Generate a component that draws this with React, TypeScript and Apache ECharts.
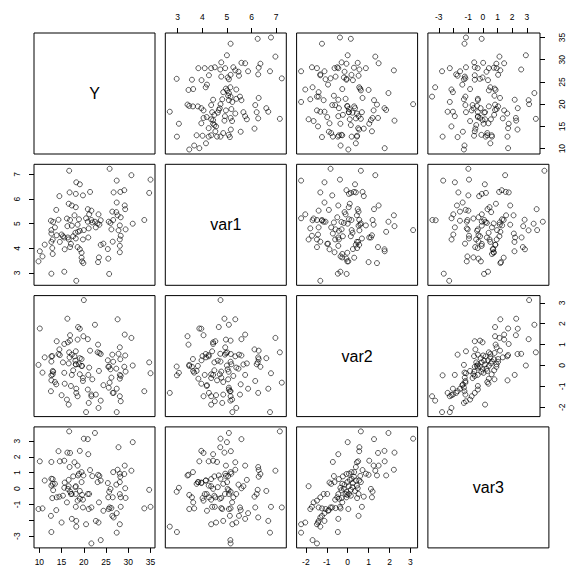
import React, { useEffect, useRef } from 'react';
import * as echarts from 'echarts';

const varNames = ['Y', 'var1', 'var2', 'var3'];

// Y and var1, read from the (Y, var1) panel
const yValues = [
  16.7, 25.8, 27.4, 30.7, 35.0, 18.3, 19.1, 16.8, 18.2, 19.8,
  21.4, 14.5, 26.7, 28.2, 29.1, 34.7, 27.4, 16.6, 17.3, 18.2,
  13.8, 20.9, 21.7, 26.4, 27.3, 29.2, 29.3, 17.9, 16.9, 18.9,
  21.2, 20.5, 21.7, 23.3, 23.8, 12.6, 13.1, 14.3, 16.2, 18.6,
  17.3, 16.3, 20.9, 21.9, 23.1, 22.5, 25.6, 26.6, 26.0, 27.6,
  28.3, 28.1, 29.4, 31.0, 33.6, 13.5, 12.7, 12.7, 13.9, 15.0,
  15.3, 15.6, 16.4, 17.6, 18.1, 18.7, 19.1, 20.0, 21.1, 22.7,
  23.5, 26.2, 27.8, 28.3, 13.0, 12.7, 14.6, 16.6, 18.2, 19.8,
  21.0, 17.1, 16.9, 18.6, 19.1, 26.5, 28.1, 28.1, 28.1, 23.8,
  24.4, 25.4, 15.7, 11.2, 10.1, 10.7, 9.8, 12.9, 13.0, 19.5,
  19.5, 19.6, 19.9, 23.4, 23.2, 25.5, 12.7, 15.6, 18.3, 25.7,
];
const var1Values = [
  7.15, 7.23, 6.75, 6.97, 6.79, 6.68, 6.60, 6.27, 6.21, 6.15,
  6.29, 6.12, 6.27, 6.29, 6.36, 6.25, 5.86, 5.81, 5.74, 5.67,
  5.56, 5.59, 5.53, 5.49, 5.47, 5.74, 5.59, 5.34, 5.15, 5.18,
  5.38, 5.22, 5.15, 5.38, 5.14, 5.12, 5.07, 5.16, 5.21, 4.96,
  4.92, 4.90, 5.08, 5.05, 5.01, 5.08, 5.08, 5.15, 5.03, 5.34,
  5.26, 4.93, 4.77, 5.00, 5.15, 4.85, 4.74, 4.60, 4.53, 4.56,
  4.49, 4.44, 4.44, 4.49, 4.63, 4.67, 4.71, 4.74, 4.81, 4.85,
  4.96, 4.77, 4.73, 4.51, 4.36, 4.26, 4.26, 4.36, 4.40, 4.36,
  4.44, 4.18, 4.05, 4.05, 3.96, 4.27, 4.36, 4.10, 3.84, 4.14,
  4.19, 3.97, 3.96, 4.15, 3.88, 3.67, 3.47, 4.01, 3.77, 3.82,
  3.62, 3.47, 3.40, 3.63, 3.44, 3.58, 2.97, 3.05, 2.68, 2.96,
];

// var2 and var3, read from the (var2, var3) panel
const var2Read = [
  0.63, 1.95, 0.00, 1.26, 3.13, 0.56, 0.55, 1.45, 1.76, 2.24,
  -0.45, 0.50, 0.44, 1.03, -0.71, 0.71, 1.24, 1.48, 1.77, 1.32,
  1.40, 2.21, 1.84, 0.87, 1.00, 0.39, 0.31, 0.06, 0.18, -0.06,
  -0.23, -0.42, -0.66, -0.63, -0.87, -0.79, -0.26, -0.02, 0.19, 0.39,
  0.55, 0.63, 0.44, 0.23, 0.15, -0.18, -0.10, -0.02, 0.06, -0.06,
  -0.29, -0.42, -0.50, -0.26, -0.37, -0.34, 0.48, 0.52, 0.77, 1.16,
  1.11, 1.19, -1.87, -0.98, -1.15, -1.31, -1.47, -1.63, -1.71, -1.79,
  -1.39, -1.23, -1.06, -0.82, -0.90, -0.74, -0.58, 0.03, 0.68, -1.11,
  -1.23, -1.31, -1.39, -1.47, -1.42, -1.31, -1.11, -0.94, -0.45, 0.52,
  -0.47, -2.23, -2.03, -2.23, -1.68, -1.47, -0.35, -0.15, 0.05, 0.25,
  0.35, -0.05, 0.15, -0.45, 0.60, 0.30, -0.30, 0.10, -0.60, 0.45,
];
const var3Read = [
  3.61, 3.51, 2.93, 3.12, 3.15, 2.61, 2.36, 2.25, 2.38, 2.27,
  2.17, 1.72, 1.66, 1.76, 1.68, 1.17, 1.45, 1.45, 1.72, 1.13,
  0.83, 1.19, 0.83, 0.94, 0.87, 1.36, 1.04, 0.94, 1.04, 0.92,
  0.77, 0.60, 0.79, 0.41, 0.38, 0.30, 0.30, 0.41, 0.62, 0.51,
  0.51, 0.41, 0.19, 0.09, -0.08, -0.02, -0.34, -0.40, -0.34, -0.55,
  -0.59, -0.64, -0.55, -0.87, -1.15, -1.25, 0.02, -0.34, -0.51, -0.55,
  -0.02, -0.19, 0.15, -0.34, -0.34, -0.55, -0.76, -0.87, -1.15, -1.29,
  -1.19, -1.25, -1.29, -1.19, -1.36, -1.19, -1.23, -1.29, -1.15, -1.55,
  -1.72, -1.82, -2.04, -2.25, -2.14, -2.40, -2.04, -1.40, -1.91, -1.72,
  -2.74, -2.25, -2.14, -2.78, -3.25, -3.46, 0.05, 0.25, 0.15, 0.35,
  -0.15, -0.20, -0.45, -0.35, 0.80, 0.75, -0.10, 0.55, -0.70, -0.60,
];

// The two panels were read separately, so which (var2, var3) pair belongs to
// which (Y, var1) observation is unknown: pair them through a fixed,
// scrambled index order (values themselves are untouched).
const pairOrder = var2Read
  .map((_, i) => i)
  .sort((a, b) => ((a * a * 37 + a * 11) % 113) - ((b * b * 37 + b * 11) % 113) || a - b);
const var2Values = pairOrder.map((k) => var2Read[k]);
const var3Values = pairOrder.map((k) => var3Read[k]);

const ticksY = [10, 15, 20, 25, 30, 35];
const ticksVar1 = [3, 4, 5, 6, 7];
const ticksVar2 = [-2, -1, 0, 1, 2, 3];
const ticksVar3 = [-3, -2, -1, 0, 1, 2, 3];
const labelsVar3 = [-3, -1, 0, 1, 2, 3];

const allValues = [yValues, var1Values, var2Values, var3Values];
const allTicks = [ticksY, ticksVar1, ticksVar2, ticksVar3];
const allLabels = [ticksY, ticksVar1, ticksVar2, labelsVar3];

const PANEL_LEFT = 34;
const PANEL_TOP = 33;
const PANEL = 121;
const GAP = 10.3;
const FONT = '"Liberation Sans", Arial, Helvetica, sans-serif';

export default function App() {
  const ref = useRef<HTMLDivElement>(null);
  useEffect(() => {
    if (!ref.current) return;
    const chart = echarts.init(ref.current, undefined, { renderer: 'svg' });
    const grids: any[] = [];
    const xAxes: any[] = [];
    const yAxes: any[] = [];
    const series: any[] = [];
    const graphics: any[] = [];
    const extMin = (v: any) => v.min - (v.max - v.min) * 0.04;
    const extMax = (v: any) => v.max + (v.max - v.min) * 0.04;
    for (let r = 0; r < 4; r++) {
      for (let c = 0; c < 4; c++) {
        const idx = r * 4 + c;
        const left = PANEL_LEFT + c * (PANEL + GAP);
        const top = PANEL_TOP + r * (PANEL + GAP);
        const diag = r === c;
        grids.push({
          left, top, width: PANEL, height: PANEL,
          show: true, borderColor: '#000', borderWidth: 1,
          backgroundColor: 'transparent', containLabel: false,
        });
        const showTop = r === 0 && c % 2 === 1;
        const showBottom = r === 3 && c % 2 === 0;
        const showX = showTop || showBottom;
        const showLeft = c === 0 && r % 2 === 1;
        const showRight = c === 3 && r % 2 === 0;
        const showY = showLeft || showRight;
        xAxes.push({
          gridIndex: idx, type: 'value',
          min: diag ? 0 : extMin, max: diag ? 1 : extMax,
          position: showTop ? 'top' : 'bottom',
          axisLine: { show: false, onZero: false },
          splitLine: { show: false },
          axisTick: {
            show: showX, customValues: allTicks[c], length: 5,
            lineStyle: { color: '#000', width: 1 },
          },
          axisLabel: {
            show: showX, customValues: allLabels[c], fontSize: 8.5,
            color: '#000', margin: showTop ? 12 : 10, fontFamily: FONT,
          },
        });
        yAxes.push({
          gridIndex: idx, type: 'value',
          min: diag ? 0 : extMin, max: diag ? 1 : extMax,
          position: showRight ? 'right' : 'left',
          axisLine: { show: false, onZero: false },
          splitLine: { show: false },
          axisTick: {
            show: showY, customValues: allTicks[r], length: 5,
            lineStyle: { color: '#000', width: 1 },
          },
          axisLabel: {
            show: showY, customValues: allLabels[r], fontSize: 8.5,
            color: '#000', margin: showRight ? 17 : 13, rotate: 90, fontFamily: FONT,
          },
        });
        if (diag) {
          graphics.push({
            type: 'text',
            x: left + PANEL / 2, y: top + PANEL / 2,
            style: {
              text: varNames[r], fontSize: 16, fontFamily: FONT,
              fill: '#000', textAlign: 'center', textVerticalAlign: 'middle',
            },
          });
        } else {
          const xs = allValues[c];
          const ys = allValues[r];
          series.push({
            type: 'scatter', xAxisIndex: idx, yAxisIndex: idx,
            data: xs.map((x, i) => [x, ys[i]]),
            symbol: 'circle', symbolSize: 5,
            itemStyle: { color: 'rgba(0,0,0,0)', borderColor: '#000', borderWidth: 0.8 },
            emphasis: { disabled: true },
            silent: true,
          });
        }
      }
    }
    chart.setOption({
      animation: false,
      backgroundColor: '#fff',
      grid: grids, xAxis: xAxes, yAxis: yAxes, series, graphic: graphics,
    });
    return () => chart.dispose();
  }, []);
  return (
    <div
      ref={ref}
      style={{ position: 'fixed', left: 0, top: 0, width: 566, height: 569 }}
    />
  );
}
